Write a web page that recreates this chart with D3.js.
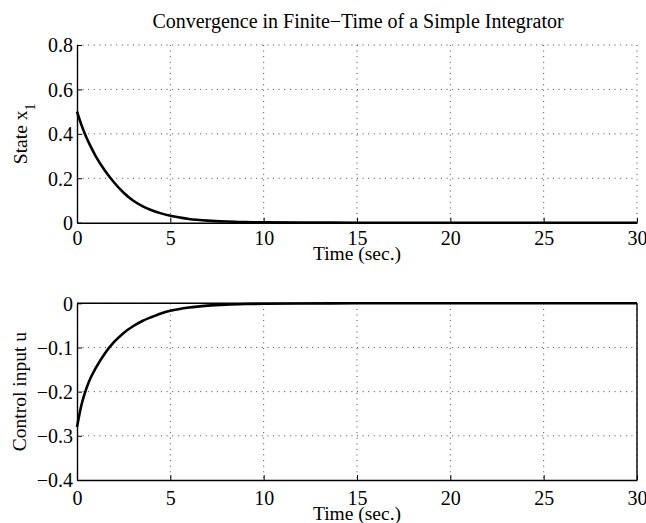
<!DOCTYPE html>
<html>
<head>
<meta charset="utf-8">
<script src="https://cdn.jsdelivr.net/npm/d3@7"></script>
<style>
  body { margin: 0; background: #fff; }
  text { font-family: "Liberation Serif", "Times New Roman", serif; fill: #000; }
</style>
</head>
<body>
<svg id="chart" width="646" height="523"></svg>
<script>
// ---- data ----
const timeSec = [0, 0.25, 0.5, 0.75, 1, 1.5, 2, 2.5, 3, 3.5, 4, 4.5, 5, 6, 7, 8, 9, 10, 12, 15, 20, 25, 30];
const stateX1 = [0.5, 0.437, 0.385, 0.34, 0.3, 0.234, 0.18, 0.135, 0.1, 0.075, 0.056, 0.042, 0.031, 0.017, 0.0095, 0.0053, 0.003, 0.0017, 0.0006, 0.0001, 0, 0, 0];
const controlU = [-0.28, -0.228, -0.193, -0.167, -0.147, -0.113, -0.087, -0.067, -0.052, -0.04, -0.031, -0.023, -0.017, -0.0095, -0.0053, -0.003, -0.0017, -0.001, -0.0003, -0.00005, 0, 0, 0];
const xTicks = [0, 5, 10, 15, 20, 25, 30];
const yTicksTop = [0, 0.2, 0.4, 0.6, 0.8];
const yTicksBottom = [-0.4, -0.3, -0.2, -0.1, 0];
const titleText = "Convergence in Finite\u2212Time of a Simple Integrator";
const xLabel = "Time (sec.)";

const svg = d3.select("#chart");
const left = 77, right = 637;
const FONT = "Liberation Serif";

function fmt(v) {
  if (v === 0) return "0";
  const s = String(Math.round(v * 10) / 10);
  return s.replace("-", "\u2212");
}

function panel(cfg) {
  const x = d3.scaleLinear().domain([0, 30]).range([left, right]);
  const y = d3.scaleLinear().domain(cfg.ydom).range([cfg.bottom, cfg.top]);
  const g = svg.append("g");

  // grid
  const gridStyle = sel => sel.attr("stroke", "#444").attr("stroke-width", 1)
    .attr("stroke-dasharray", "1,4.6").attr("fill", "none");
  g.selectAll(".gx").data(xTicks.filter(d => d !== 0)).join("line")
    .attr("x1", d => x(d)).attr("x2", d => x(d))
    .attr("y1", cfg.top).attr("y2", cfg.bottom).call(gridStyle);
  g.selectAll(".gy").data(cfg.yticks.filter(d => d !== cfg.ydom[0])).join("line")
    .attr("x1", left).attr("x2", right)
    .attr("y1", d => y(d)).attr("y2", d => y(d)).call(gridStyle);

  // curve
  const line = d3.line().x(d => x(d[0])).y(d => y(d[1])).curve(d3.curveMonotoneX);
  g.append("path").datum(timeSec.map((t, i) => [t, cfg.values[i]]))
    .attr("d", line)
    .attr("fill", "none").attr("stroke", "#000").attr("stroke-width", 2.6);

  // axes (MATLAB style inward ticks)
  const xa = d3.axisBottom(x).tickValues(xTicks).tickSizeInner(-5).tickSizeOuter(0).tickFormat(d => d);
  const ya = d3.axisLeft(y).tickValues(cfg.yticks).tickSizeInner(-5).tickSizeOuter(0).tickPadding(4).tickFormat(fmt);
  const gx = g.append("g").attr("transform", `translate(0,${cfg.bottom})`).call(xa);
  const gy = g.append("g").attr("transform", `translate(${left},0)`).call(ya);
  [gx, gy].forEach(a => {
    a.attr("font-family", FONT).attr("font-size", 20);
    a.select(".domain").attr("stroke", "#000").attr("stroke-width", 1.4);
    a.selectAll(".tick line").attr("stroke", "#000");
    a.selectAll(".tick text").style("font-family", FONT).style("font-size", "20px").attr("fill", "#000");
  });
  gx.selectAll(".tick text").attr("y", cfg.tickBase).attr("dy", 0);
  gy.selectAll(".tick text").attr("x", -4).attr("dy", "0.34em");

  if (cfg.box) {
    g.append("line").attr("x1", left).attr("x2", right).attr("y1", cfg.top).attr("y2", cfg.top)
      .attr("stroke", "#000").attr("stroke-width", 1.4);
    g.append("line").attr("x1", right).attr("x2", right).attr("y1", cfg.top).attr("y2", cfg.bottom)
      .attr("stroke", "#000").attr("stroke-width", 1.4);
  }

  // labels
  g.append("text").attr("x", 357).attr("y", cfg.bottom + cfg.xlabBase)
    .attr("text-anchor", "middle").style("font-size", "19.5px").text(xLabel);
  const yl = g.append("text")
    .attr("transform", `translate(${cfg.ylabX},${(cfg.top + cfg.bottom) / 2}) rotate(-90)`)
    .attr("text-anchor", "middle").style("font-size", "19.5px");
  yl.append("tspan").text(cfg.ylabel);
  if (cfg.ysub) {
    yl.append("tspan").attr("dy", 8).style("font-size", "14px").text(cfg.ysub);
  }
}

panel({ top: 45, bottom: 222.7, ydom: [0, 0.8], yticks: yTicksTop, values: stateX1,
        ylabel: "State x", ysub: "1", box: false, tickBase: 22.5, xlabBase: 37.5, ylabX: 27 });
panel({ top: 303.3, bottom: 480, ydom: [-0.4, 0], yticks: yTicksBottom, values: controlU,
        ylabel: "Control input u", box: true, tickBase: 25, xlabBase: 39.5, ylabX: 26 });

svg.append("text").attr("x", 358).attr("y", 28).attr("text-anchor", "middle")
  .style("font-size", "20px").text(titleText);
</script>
</body>
</html>
